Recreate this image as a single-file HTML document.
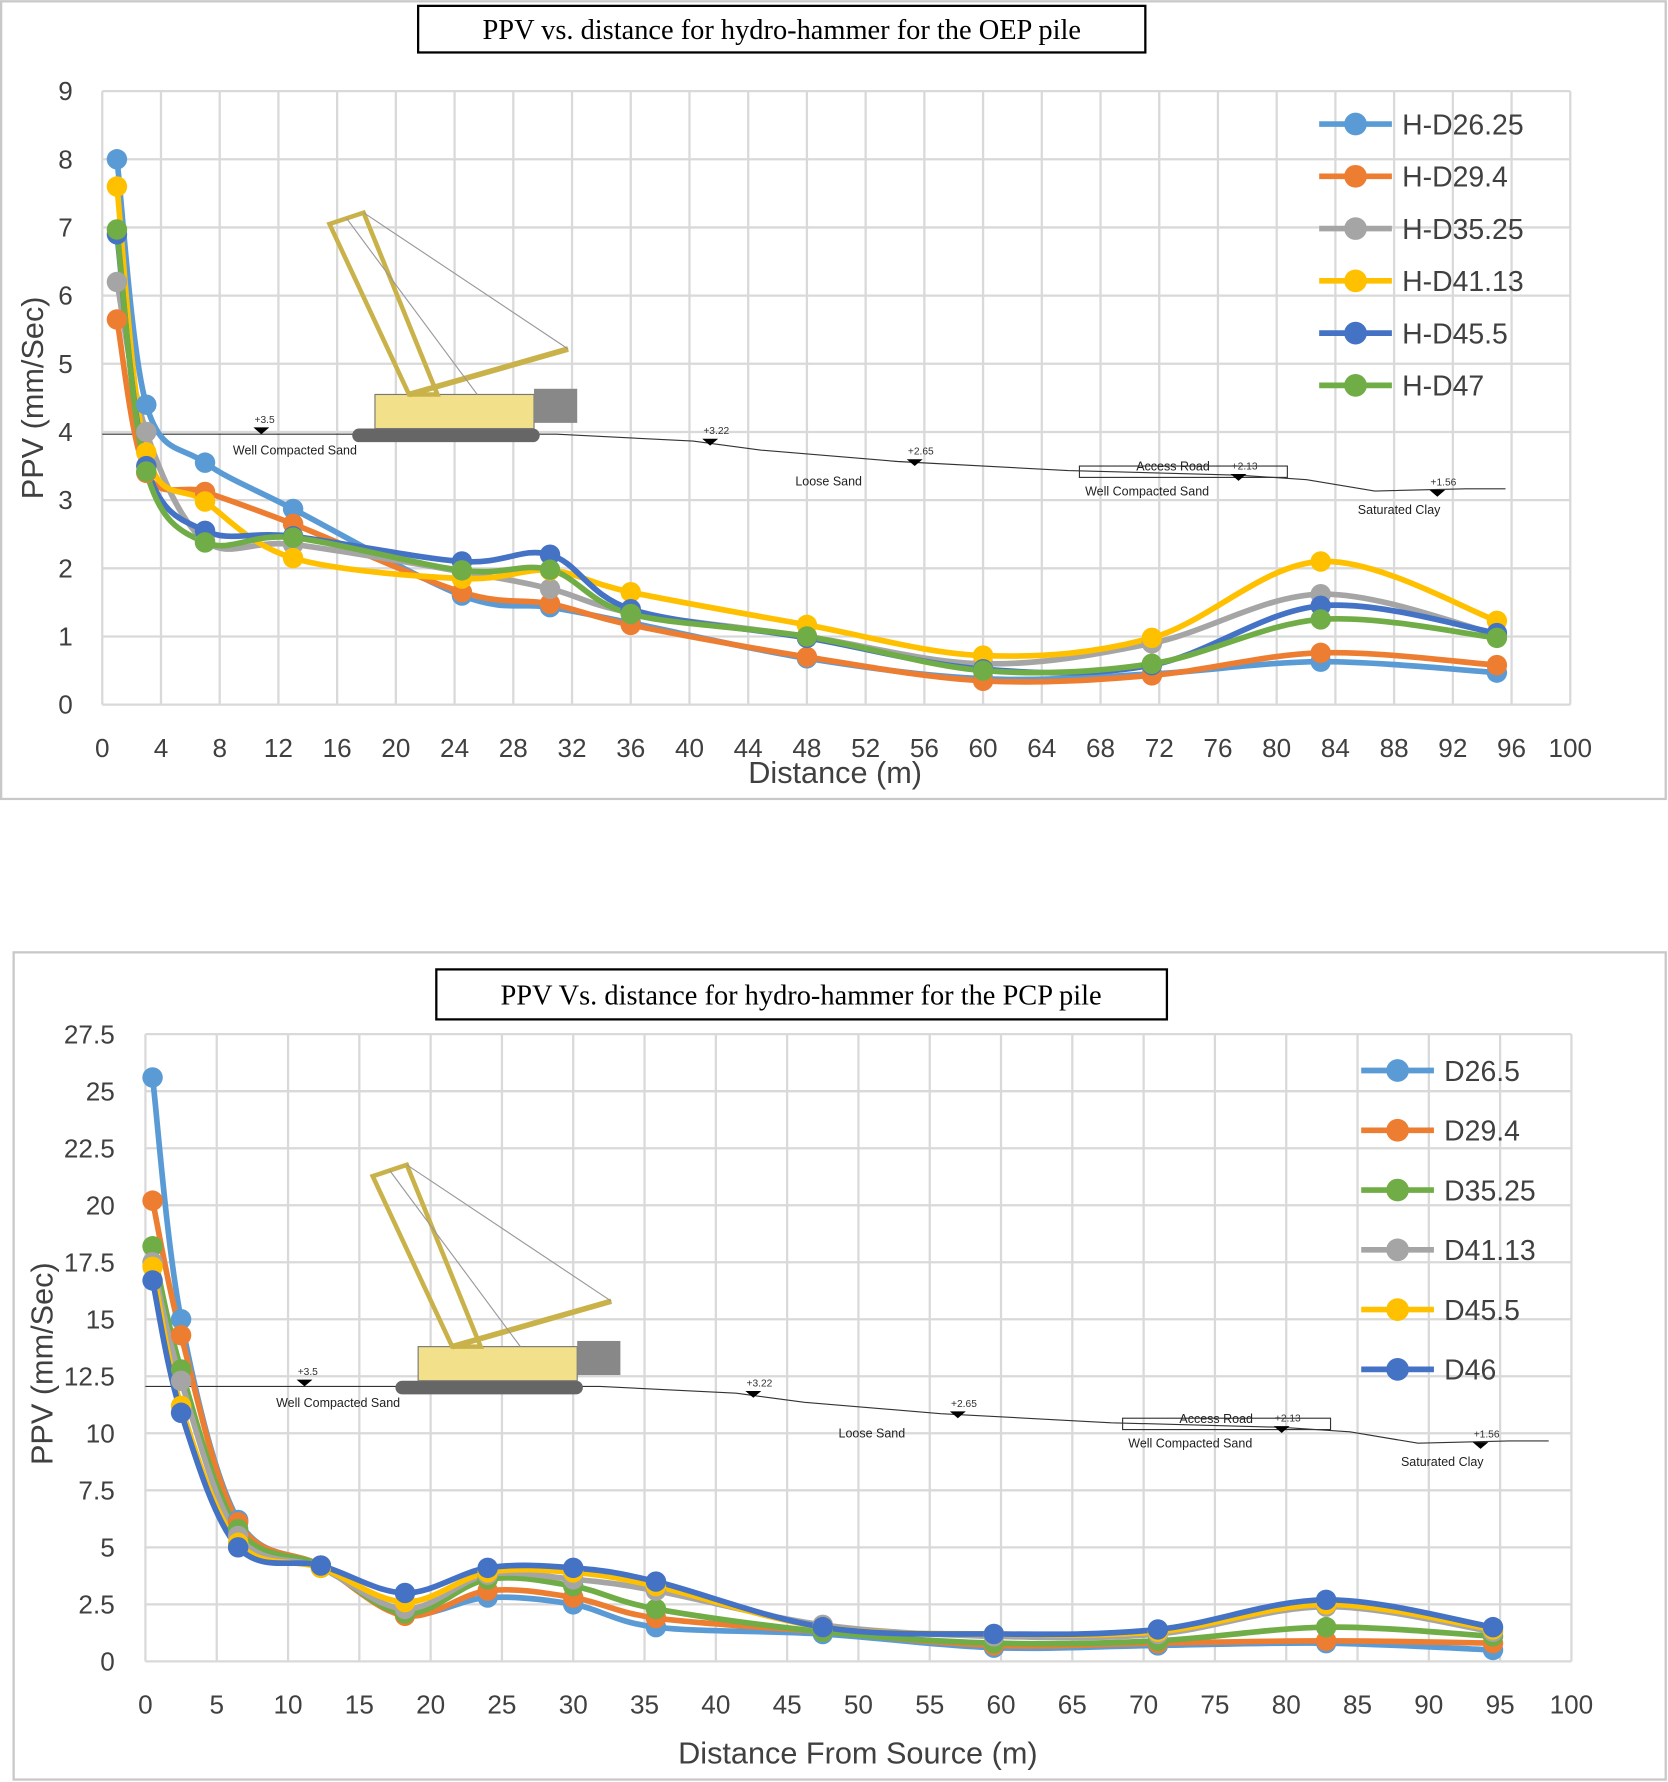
<!DOCTYPE html>
<html><head><meta charset="utf-8">
<style>
html,body{margin:0;padding:0;background:#fff;}
svg{display:block;font-family:"Liberation Sans",sans-serif;}
</style></head>
<body>
<svg id="s" width="1668" height="1782" viewBox="0 0 1468 1568" xmlns="http://www.w3.org/2000/svg">
<rect x="1" y="1" width="1465" height="702" fill="#fff" stroke="#c8c8c8" stroke-width="2"/>
<rect x="12" y="838" width="1454" height="728" fill="#fff" stroke="#c8c8c8" stroke-width="2"/>
<g id="g1"></g>
<g id="g2"></g>
<rect x="368" y="5" width="640" height="41" fill="#fff" stroke="#000" stroke-width="2"/>
<text x="688" y="34" text-anchor="middle" font-family="Liberation Serif,serif" font-size="25">PPV vs. distance for hydro-hammer for the OEP pile</text>
<rect x="384" y="853" width="643" height="44" fill="#fff" stroke="#000" stroke-width="2"/>
<text x="705" y="884" text-anchor="middle" font-family="Liberation Serif,serif" font-size="25">PPV Vs. distance for hydro-hammer for the PCP pile</text>
</svg>
<script>
// ---- top chart data ----
const topX = [1, 3, 7, 13, 24.5, 30.5, 36, 48, 60, 71.5, 83, 95];
const topNames = ["H-D26.25","H-D29.4","H-D35.25","H-D41.13","H-D45.5","H-D47"];
const topD2625 = [8.0, 4.4, 3.55, 2.87, 1.6, 1.43, 1.2, 0.68, 0.38, 0.45, 0.63, 0.47];
const topD294 = [5.65, 3.4, 3.12, 2.65, 1.65, 1.48, 1.17, 0.7, 0.35, 0.43, 0.76, 0.58];
const topD3525 = [6.2, 4.0, 2.4, 2.35, 1.95, 1.7, 1.35, 1.0, 0.6, 0.9, 1.62, 1.03];
const topD4113 = [7.6, 3.7, 2.98, 2.15, 1.85, 1.97, 1.65, 1.17, 0.72, 0.98, 2.1, 1.23];
const topD455 = [6.9, 3.5, 2.55, 2.47, 2.1, 2.2, 1.4, 0.98, 0.52, 0.58, 1.45, 1.05];
const topD47 = [6.97, 3.42, 2.38, 2.45, 1.97, 1.98, 1.33, 1.0, 0.5, 0.6, 1.25, 0.98];
const topXTicks = [0,4,8,12,16,20,24,28,32,36,40,44,48,52,56,60,64,68,72,76,80,84,88,92,96,100];
const topYTicks = [0,1,2,3,4,5,6,7,8,9];
// ---- bottom chart data ----
const botX = [0.5, 2.5, 6.5, 12.3, 18.2, 24, 30, 35.8, 47.5, 59.5, 71, 82.8, 94.5];
const botNames = ["D26.5","D29.4","D35.25","D41.13","D45.5","D46"];
const botD265 = [25.6, 15, 6.2, 4.2, 2.1, 2.8, 2.5, 1.5, 1.2, 0.6, 0.7, 0.8, 0.5];
const botD294 = [20.2, 14.3, 6.1, 4.2, 2.0, 3.1, 2.8, 1.9, 1.3, 0.7, 0.8, 0.9, 0.8];
const botD3525 = [18.2, 12.8, 5.8, 4.2, 2.1, 3.6, 3.3, 2.3, 1.3, 0.8, 0.9, 1.5, 1.1];
const botD4113 = [17.5, 12.3, 5.5, 4.1, 2.3, 3.8, 3.6, 3.1, 1.6, 1.1, 1.2, 2.4, 1.3];
const botD455 = [17.3, 11.2, 5.2, 4.1, 2.6, 3.9, 3.9, 3.3, 1.5, 1.2, 1.3, 2.5, 1.4];
const botD46 = [16.7, 10.9, 5.0, 4.2, 3.0, 4.1, 4.1, 3.5, 1.5, 1.2, 1.4, 2.7, 1.5];
const botXTicks = [0,5,10,15,20,25,30,35,40,45,50,55,60,65,70,75,80,85,90,95,100];
const botYTicks = [0,2.5,5,7.5,10,12.5,15,17.5,20,22.5,25,27.5];

const NS="http://www.w3.org/2000/svg";
function mk(parent,tag,attrs,txt){const e=document.createElementNS(NS,tag);for(const k in attrs)e.setAttribute(k,attrs[k]);if(txt!==undefined)e.textContent=txt;parent.appendChild(e);return e;}
function smooth(pts){let d="M"+pts[0][0]+","+pts[0][1];for(let i=0;i<pts.length-1;i++){const p0=pts[i-1]||pts[i],p1=pts[i],p2=pts[i+1],p3=pts[i+2]||p2;const t=0.17*3/3;const c1=[p1[0]+(p2[0]-p0[0])/6,p1[1]+(p2[1]-p0[1])/6];const c2=[p2[0]-(p3[0]-p1[0])/6,p2[1]-(p3[1]-p1[1])/6];d+=" C"+c1+" "+c2+" "+p2;}return d;}

function drawChart(g,cfg){
  const sx=v=>cfg.x0+(v-cfg.xmin)/(cfg.xmax-cfg.xmin)*(cfg.x1-cfg.x0);
  const sy=v=>cfg.y0-(v-cfg.ymin)/(cfg.ymax-cfg.ymin)*(cfg.y0-cfg.y1);
  cfg.xTicks.forEach(t=>{
    const l=mk(g,"line",{x1:sx(t),x2:sx(t),y1:cfg.y1,y2:cfg.y0,stroke:"#d9d9d9","stroke-width":2});
    
    
    const tx=mk(g,"text",{x:sx(t),y:cfg.xLabY,"text-anchor":"middle","font-size":cfg.fs,fill:"#404040"},String(t));
    
    
  });
  cfg.yTicks.forEach(t=>{
    const l=mk(g,"line",{x1:cfg.x0,x2:cfg.x1,y1:sy(t),y2:sy(t),stroke:"#d9d9d9","stroke-width":2});
    
    
    const tx=mk(g,"text",{x:cfg.yLabX,y:sy(t)+8,"text-anchor":"end","font-size":cfg.fs,fill:"#404040"},String(t));
    
    
  });
  // soil profile + crane
  cfg.decor(g,sx,sy);
  cfg.series.forEach((s,i)=>{
    const pts=cfg.xs.map((x,j)=>[sx(x),sy(s[j])]);
    const p=mk(g,"path",{d:smooth(pts),fill:"none",stroke:cfg.colors[i],"stroke-width":5});
    
    
  });
  cfg.series.forEach((s,i)=>{
    cfg.xs.forEach((x,j)=>{
      const c=mk(g,"circle",{cx:sx(x),cy:sy(s[j]),r:9,fill:cfg.colors[i]});
      
      
    });
  });
  cfg.names.forEach((n,i)=>{
    const y=cfg.legY+i*cfg.legDy;
    const le=mk(g,"g",{});
    
    
    mk(le,"line",{x1:cfg.legX,x2:cfg.legX+64,y1:y,y2:y,stroke:cfg.colors[i],"stroke-width":5});
    mk(le,"circle",{cx:cfg.legX+32,cy:y,r:10,fill:cfg.colors[i]});
    mk(le,"text",{x:cfg.legX+73,y:y+9,"font-size":25,fill:"#404040"},n);
  });
  const xt=mk(g,"text",{x:cfg.xTitle[0],y:cfg.xTitle[1],"text-anchor":"middle","font-size":27,fill:"#404040"},cfg.xTitleText);
  
  
  const yt=mk(g,"text",{x:0,y:0,"text-anchor":"middle","font-size":27,fill:"#404040",transform:`translate(${cfg.yTitle[0]},${cfg.yTitle[1]}) rotate(-90)`},"PPV (mm/Sec)");
  
  
}

function decor(g,ox,oy,sc,lineY){
  const d=mk(g,"g",{transform:`translate(${ox},${oy}) scale(${sc})`});
  
  
  // ground line
  mk(d,"path",{d:"M0,0 L400,0 L520,6 L580,14 L700,24 L850,32 L1000,36 L1060,40 L1120,50 L1200,48 L1235,48",fill:"none",stroke:"#333","stroke-width":1});
  mk(d,"rect",{x:860,y:28,width:183,height:10,fill:"none",stroke:"#333","stroke-width":1});
  [[140,"+3.5",-6],[535,"+3.22",4],[715,"+2.65",22],[1000,"+2.13",35],[1175,"+1.56",49]].forEach(m=>{
    mk(d,"path",{d:`M${m[0]-7},${m[2]} L${m[0]+7},${m[2]} L${m[0]},${m[2]+6}Z`,fill:"#000"});
    mk(d,"text",{x:m[0]-6,y:m[2]-4,"font-size":9,fill:"#333"},m[1]);
  });
  [[115,18,"Well Compacted Sand"],[610,45,"Loose Sand"],[865,54,"Well Compacted Sand"],[910,32,"Access Road"],[1105,70,"Saturated Clay"]].forEach(t=>mk(d,"text",{x:t[0],y:t[1],"font-size":11,fill:"#222"},t[2]));
  // crane
  const c=mk(d,"g",{transform:"translate(210,-185)"});
  mk(c,"rect",{x:10,y:180,width:165,height:12,rx:6,fill:"#666"});
  mk(c,"rect",{x:30,y:150,width:140,height:30,fill:"#f2e08a",stroke:"#777"});
  mk(c,"rect",{x:170,y:145,width:38,height:30,fill:"#888"});
  mk(c,"path",{d:"M-10,0 L20,-10 L85,150 L60,150 Z",fill:"none",stroke:"#c9b24a","stroke-width":4});
  mk(c,"path",{d:"M60,150 L200,110",fill:"none",stroke:"#c9b24a","stroke-width":5});
  mk(c,"path",{d:"M20,-10 L200,110 M5,-5 L120,150",fill:"none",stroke:"#999","stroke-width":1});
}

drawChart(document.getElementById("g1"),{
  x0:90,x1:1382,y0:620,y1:80,xmin:0,xmax:100,ymin:0,ymax:9,fs:23,
  xTicks:topXTicks,yTicks:topYTicks,xLabY:666,yLabX:64,xs:topX,
  series:[topD2625,topD294,topD3525,topD4113,topD455,topD47],names:topNames,
  colors:["#5b9bd5","#ed7d31","#a5a5a5","#ffc000","#4472c4","#70ad47"],
  legX:1161,legY:109,legDy:46,xTitle:[735,689],xTitleText:"Distance (m)",yTitle:[38,350],
  decor:(g)=>decor(g,90,382,1.0,0)
});
drawChart(document.getElementById("g2"),{
  x0:128,x1:1383,y0:1462,y1:910,xmin:0,xmax:100,ymin:0,ymax:27.5,fs:23,
  xTicks:botXTicks,yTicks:botYTicks,xLabY:1508,yLabX:101,xs:botX,
  series:[botD265,botD294,botD3525,botD4113,botD455,botD46],names:botNames,
  colors:["#5b9bd5","#ed7d31","#70ad47","#a5a5a5","#ffc000","#4472c4"],
  legX:1198,legY:942,legDy:52.6,xTitle:[755,1552],xTitleText:"Distance From Source (m)",yTitle:[46,1200],
  decor:(g)=>decor(g,128,1220,1.0,0)
});
</script>
</body></html>
